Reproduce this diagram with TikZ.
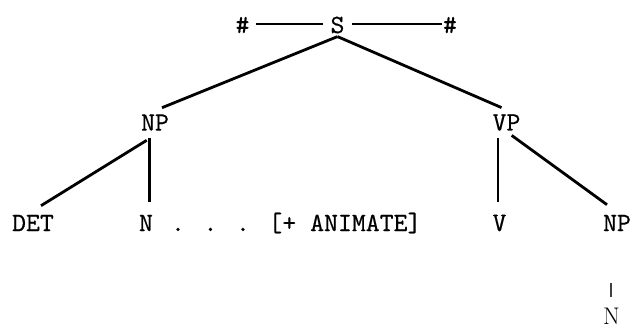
\documentclass[tikz,border=0pt]{standalone}
\usepackage{fontspec}
\newfontfamily\twfont{lmmono10-regular.otf}[FakeBold=0.4]
\usetikzlibrary{calc}
\begin{document}
\begin{tikzpicture}[x=1pt,y=-1pt,
  lab/.style={font=\twfont\fontsize{26.5}{27}\selectfont, inner sep=3pt},
  edge/.style={line width=2.8pt},
  thinedge/.style={line width=1.8pt}]
\useasboundingbox (0,0) rectangle (635,330);
\node[lab] (S) at (337.5,25) {S};
\node[lab] (hashL) at (242.5,25) {\#};
\node[lab] (hashR) at (450,25) {\#};
\node[lab] (NP1) at (155,122.5) {NP};
\node[lab] (VP) at (506.5,122.5) {VP};
\node[lab] (DET) at (33,223) {DET};
\node[lab] (N) at (146,223) {N};
\node[lab, inner sep=0pt, anchor=base west] (anim) at ($(N.base west)+(3+32,0)$) {. . . [+ ANIMATE]};
\node[lab] (V) at (499.5,223) {V};
\node[lab] (NP2) at (617,223) {NP};
\node[font=\fontsize{24}{24}\selectfont, inner sep=3pt] (N2) at (611.5,316.5) {N};
\draw[thinedge] ($(hashL.east)+(3,-1)$) -- ($(S.west)+(-4.5,-1)$);
\draw[edge] ($(S.east)+(4.7,-1)$) -- ($(hashR.west)+(1.8,-1)$);
\draw[edge] (S.south) -- ($(NP1.north)+(7,-3.5)$);
\draw[edge] (S.south) -- ($(VP.north)+(-5,-3.5)$);
\draw[edge] ($(NP1.south)+(-8.3,6.5)$) -- ($(DET.north)+(8,-6)$);
\draw[edge] ($(NP1.south)+(-5.7,4.5)$) -- ($(N.north)+(3.3,-10)$);
\draw[edge] ($(VP.south)+(-8.5,4.5)$) -- ($(V.north)+(-1.5,-10)$);
\draw[edge] ($(VP.south)+(5.2,1.5)$) -- ($(NP2.north)+(-10,-7)$);
\draw[line width=1.3pt, black!75] ($(NP2.south)+(-6,49)$) -- ($(N2.north)+(-0.5,-8)$);
\end{tikzpicture}
\end{document}
